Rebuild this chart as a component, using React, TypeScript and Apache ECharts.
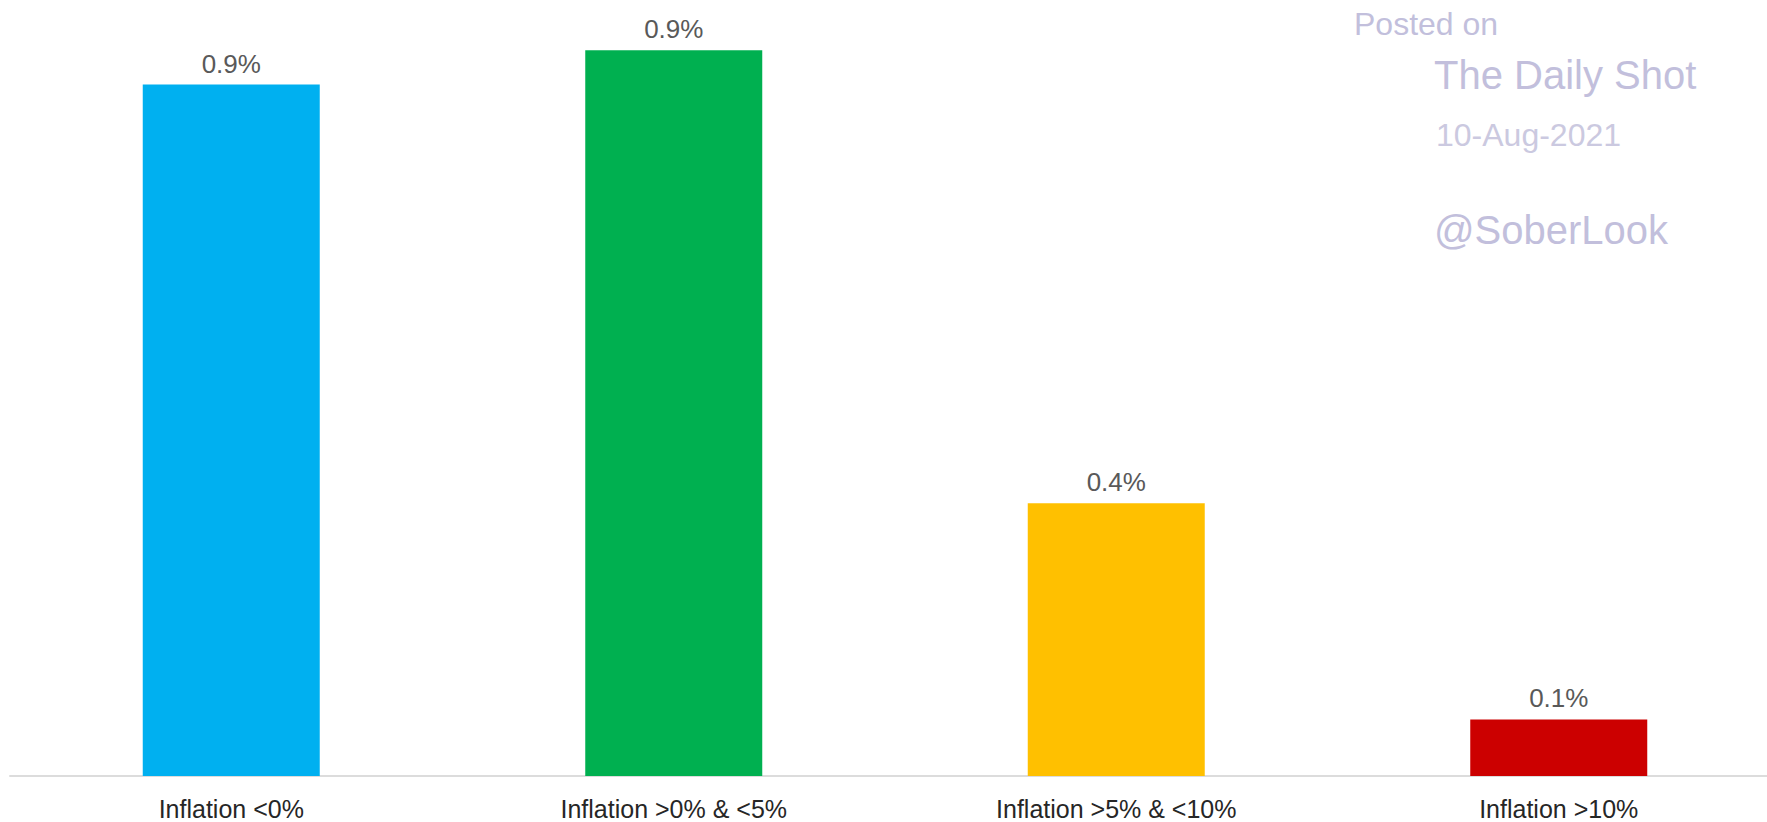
import React, { useEffect, useRef } from "react";
import * as echarts from "echarts";

const categories = ["Inflation <0%", "Inflation >0% & <5%", "Inflation >5% & <10%", "Inflation >10%"];
const values = [0.905, 0.95, 0.357, 0.074];
const barColors = ["#00b0f0", "#00b050", "#ffc000", "#cc0000"];
const watermark = ["Posted on", "The Daily Shot", "10-Aug-2021", "@SoberLook"];

const FONT = "'Liberation Sans', Arial, sans-serif";

export default function App() {
  const ref = useRef<HTMLDivElement>(null);
  useEffect(() => {
    document.body.style.margin = "0";
    document.body.style.overflow = "hidden";
    if (!ref.current) return;
    const chart = echarts.init(ref.current, undefined, { renderer: "svg" });
    const wmColor = "#c2bfdc";
    chart.setOption({
      animation: false,
      backgroundColor: "#ffffff",
      grid: { left: 10, top: 12, height: 764, width: 1770, containLabel: false, outerBoundsMode: "none" },
      xAxis: {
        type: "category",
        data: categories,
        axisTick: { show: false },
        axisLine: { show: true, lineStyle: { color: "#dcdcdc", width: 2 } },
        axisLabel: { color: "#262626", fontSize: 25, fontFamily: FONT, margin: 20, interval: 0 },
      },
      yAxis: {
        type: "value",
        min: 0,
        max: 1,
        show: false,
        splitLine: { show: false },
      },
      series: [
        {
          type: "bar",
          data: values.map((v, i) => ({ value: v, itemStyle: { color: barColors[i] } })),
          barWidth: 177,
          label: {
            show: true,
            position: "top",
            distance: 8,
            color: "#595959",
            fontSize: 26,
            fontFamily: FONT,
            formatter: (p: any) => (p.value as number).toFixed(1) + "%",
          },
        },
      ],
      graphic: [
        { type: "text", left: 1354, top: 8, style: { text: watermark[0], fontSize: 32, fontFamily: FONT, fill: wmColor } },
        { type: "text", left: 1434, top: 55, style: { text: watermark[1], fontSize: 40, fontFamily: FONT, fill: wmColor } },
        { type: "text", left: 1436, top: 119, style: { text: watermark[2], fontSize: 32, fontFamily: FONT, fill: "#cbc9e0" } },
        { type: "text", left: 1434, top: 210, style: { text: watermark[3], fontSize: 40, fontFamily: FONT, fill: wmColor } },
      ],
    });
    return () => chart.dispose();
  }, []);
  return <div ref={ref} style={{ width: 1767, height: 822 }} />;
}
